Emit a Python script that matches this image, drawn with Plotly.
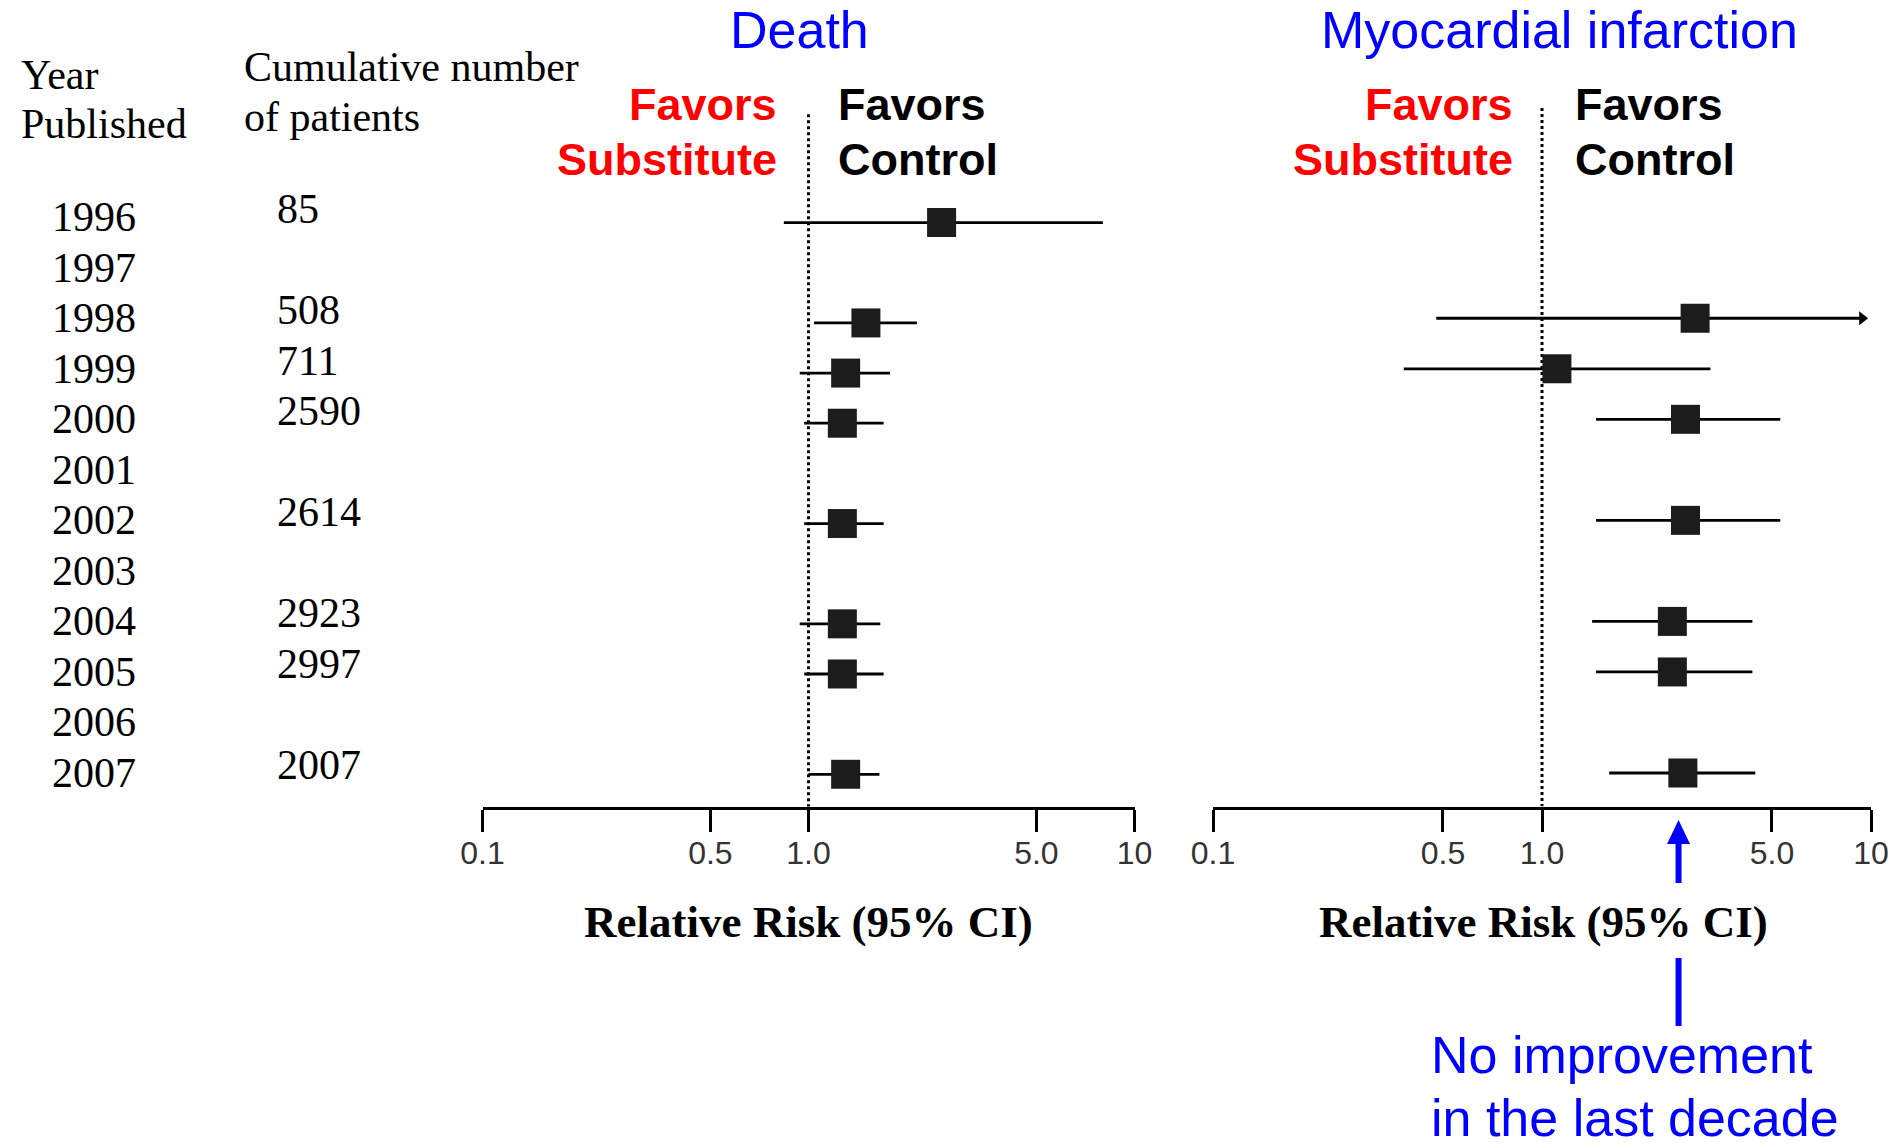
import math
import plotly.graph_objects as go

W, H = 1897, 1143

# ---------------- data ----------------
table_years = list(range(1996, 2008))
table_year_labels = [str(y) for y in table_years]

cum_years = [1996, 1998, 1999, 2000, 2002, 2004, 2005, 2007]
cum_patients = ["85", "508", "711", "2590", "2614", "2923", "2997", "2007"]

death_years = [1996, 1998, 1999, 2000, 2002, 2004, 2005, 2007]
death_rr = [2.56, 1.50, 1.30, 1.27, 1.27, 1.27, 1.27, 1.30]
death_lo = [0.84, 1.04, 0.94, 0.97, 0.97, 0.94, 0.97, 1.00]
death_hi = [8.0, 2.15, 1.78, 1.70, 1.70, 1.66, 1.70, 1.65]

mi_years = [1998, 1999, 2000, 2002, 2004, 2005, 2007]
mi_rr = [2.92, 1.11, 2.73, 2.73, 2.49, 2.49, 2.68]
mi_lo = [0.477, 0.38, 1.46, 1.46, 1.42, 1.46, 1.60]
mi_hi = [9.4, 3.25, 5.3, 5.3, 4.36, 4.36, 4.45]
mi_hi_truncated = [True, False, False, False, False, False, False]

tick_vals = [0.1, 0.5, 1.0, 5.0, 10.0]
tick_text = ["0.1", "0.5", "1.0", "5.0", "10"]

arrow_rr = 2.6  # value pointed at by the blue arrow (MI panel)

# ---------------- layout helpers ----------------
def pxp(x):
    return x / W

def pyp(y):
    return 1 - y / H

SERIF = "Liberation Serif, Times New Roman, serif"
SANS = "Liberation Sans, Arial, sans-serif"
BLUE = "#0000FF"
RED = "#FF0000"

# panel pixel extents
D_X0, D_X1 = 482.5, 1134.5
M_X0, M_X1 = 1213.0, 1871.0
Y_TOP, Y_AXIS = 100.0, 806.5

fig = go.Figure()

panels = [
    ("x", "y", death_years, death_rr, death_lo, death_hi, None),
    ("x2", "y2", mi_years, mi_rr, mi_lo, mi_hi, mi_hi_truncated),
]

for xa, ya, yrs, rr, lo, hi, trunc in panels:
    top, bottom = 1993.84, 2007.66
    # reference line at RR = 1
    fig.add_trace(go.Scatter(
        x=[1.0, 1.0], y=[top, bottom], mode="lines",
        line=dict(color="black", width=3, dash="dot"),
        xaxis=xa, yaxis=ya, hoverinfo="skip", showlegend=False))
    # estimates with CI
    fig.add_trace(go.Scatter(
        x=rr, y=yrs, mode="markers",
        marker=dict(symbol="square", size=29, color="#1c1c1c"),
        error_x=dict(type="data", symmetric=False,
                     array=[h - r for h, r in zip(hi, rr)],
                     arrayminus=[r - l for r, l in zip(rr, lo)],
                     width=0, thickness=2.8, color="black"),
        xaxis=xa, yaxis=ya, showlegend=False))
    if trunc is not None:
        tx = [h for h, t in zip(hi, trunc) if t]
        ty = [y for y, t in zip(yrs, trunc) if t]
        fig.add_trace(go.Scatter(
            x=tx, y=ty, mode="markers",
            marker=dict(symbol="triangle-right", size=12, color="black"),
            xaxis=xa, yaxis=ya, showlegend=False, hoverinfo="skip"))

ydom = [pyp(Y_AXIS), pyp(Y_TOP)]
common_x = dict(
    type="log", range=[-1, 1], showgrid=False, zeroline=False,
    showline=True, linecolor="black", linewidth=3,
    ticks="outside", ticklen=22, tickwidth=3, tickcolor="black",
    tickvals=tick_vals, ticktext=tick_text,
    tickfont=dict(family=SANS, size=32, color="#333333"),
    ticklabelstandoff=-6, automargin=False,
)
common_y = dict(showgrid=False, zeroline=False, showline=False,
                showticklabels=False, ticks="", domain=ydom, automargin=False)

fig.update_layout(
    width=W, height=H, autosize=False,
    margin=dict(l=0, r=0, t=0, b=0, pad=0),
    paper_bgcolor="white", plot_bgcolor="white",
    showlegend=False,
    xaxis=dict(domain=[pxp(D_X0), pxp(D_X1)], anchor="y", **common_x),
    xaxis2=dict(domain=[pxp(M_X0), pxp(M_X1)], anchor="y2", **common_x),
    yaxis=dict(anchor="x", range=[2007 + (Y_AXIS - 774.3) / 50.15,
                                  1996 - (222.6 - Y_TOP) / 50.15], **common_y),
    yaxis2=dict(anchor="x2", range=[2007 + (Y_AXIS - 773.0) / 50.53,
                                    1996 - (217.2 - Y_TOP) / 50.53], **common_y),
)

ann = []

def text(x, y, s, size, color="black", family=SANS, bold=False, xanchor="center"):
    if bold:
        s = "<b>" + s + "</b>"
    ann.append(dict(x=pxp(x), y=pyp(y), xref="paper", yref="paper", text=s,
                    showarrow=False, xanchor=xanchor, yanchor="middle",
                    font=dict(family=family, size=size, color=color)))

# panel titles
text(799.7, 30, "Death", 52, BLUE)
text(1559.5, 30, "Myocardial infarction", 52, BLUE)

# favors labels
for right_edge, left_edge in [(779, 836), (1515, 1572.7)]:
    text(right_edge, 105, "Favors", 45, RED, bold=True, xanchor="right")
    text(right_edge, 159, "Substitute", 45, RED, bold=True, xanchor="right")
    text(left_edge, 105, "Favors", 45, "black", bold=True, xanchor="left")
    text(left_edge, 159, "Control", 45, "black", bold=True, xanchor="left")

# axis titles
text(808.0, 922, "Relative Risk (95% CI)", 45, family=SERIF, bold=True)
text(1543.7, 922, "Relative Risk (95% CI)", 45, family=SERIF, bold=True)

# table headers
text(19, 75, "Year", 42, family=SERIF, xanchor="left")
text(19, 124, "Published", 42, family=SERIF, xanchor="left")
text(242, 67, "Cumulative number", 42, family=SERIF, xanchor="left")
text(242, 117, "of patients", 42, family=SERIF, xanchor="left")

# table rows (positioned on the year axis)
for yv, lab in zip(table_years, table_year_labels):
    ann.append(dict(x=pxp(50), y=yv, xref="paper", yref="y2", text=lab,
                    showarrow=False, xanchor="left", yanchor="middle",
                    font=dict(family=SERIF, size=42, color="black")))
for yv, lab in zip(cum_years, cum_patients):
    ann.append(dict(x=pxp(275), y=yv, xref="paper", yref="y2", text=lab,
                    showarrow=False, xanchor="left", yanchor="middle", yshift=8,
                    font=dict(family=SERIF, size=42, color="black")))

# blue note
text(1429, 1055, "No improvement", 52, BLUE, xanchor="left")
text(1429, 1118, "in the last decade", 52, BLUE, xanchor="left")

fig.update_layout(annotations=ann)

# blue arrow, x from MI axis mapping
ax_px = M_X0 + (math.log10(arrow_rr) + 1) / 2 * (M_X1 - M_X0)
shapes = [
    dict(type="path", xref="paper", yref="paper",
         path="M {} {} L {} {} L {} {} Z".format(
             pxp(ax_px), pyp(820), pxp(ax_px - 11.5), pyp(844), pxp(ax_px + 11.5), pyp(844)),
         fillcolor=BLUE, line=dict(width=0)),
    dict(type="line", xref="paper", yref="paper",
         x0=pxp(ax_px), x1=pxp(ax_px), y0=pyp(842), y1=pyp(883),
         line=dict(color=BLUE, width=6)),
    dict(type="line", xref="paper", yref="paper",
         x0=pxp(ax_px), x1=pxp(ax_px), y0=pyp(958), y1=pyp(1026),
         line=dict(color=BLUE, width=6)),
]
fig.update_layout(shapes=shapes)

fig.write_html(
    "out.html",
    config={"responsive": False, "displayModeBar": False},
    post_script="document.body.style.margin='0';document.body.style.overflow='hidden';",
)
